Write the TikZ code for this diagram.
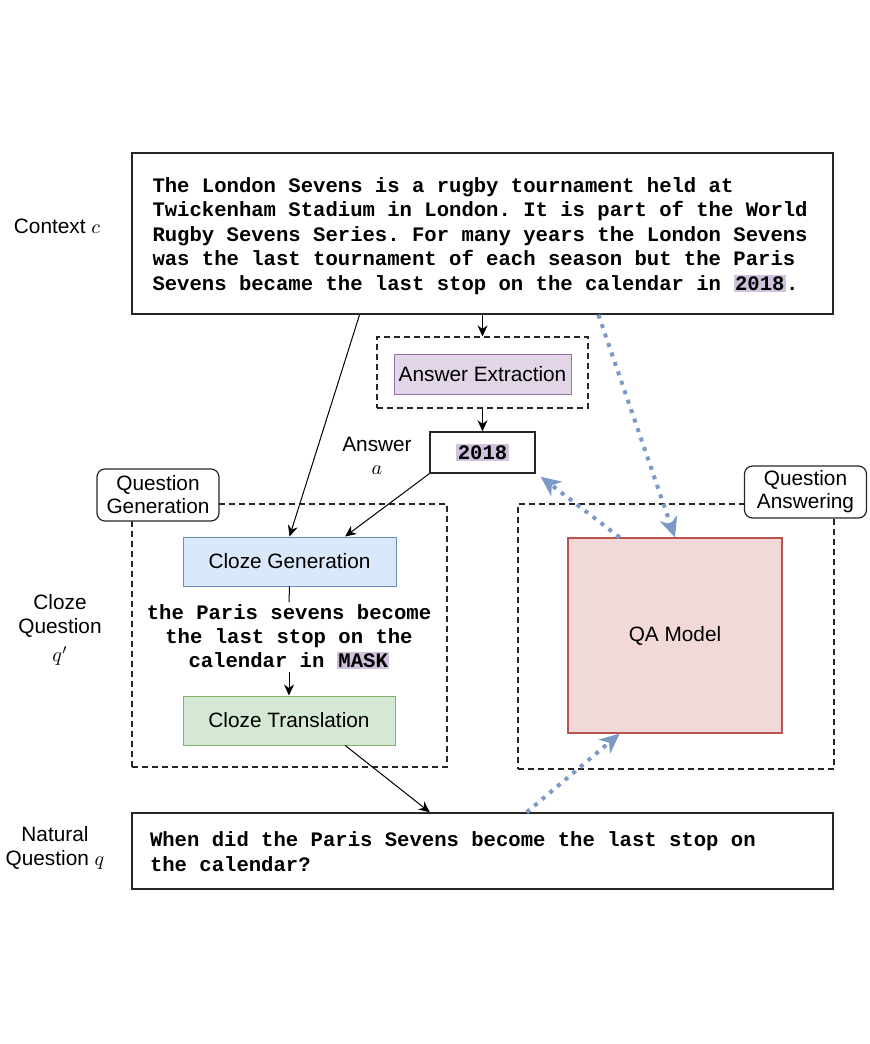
\documentclass[tikz,border=0pt]{standalone}
\usepackage{fontspec}
\setmainfont{Liberation Sans}
\setmonofont{Liberation Mono}
\usetikzlibrary{arrows.meta,positioning,calc}
\definecolor{hlpurple}{RGB}{208,194,222}
\definecolor{aefill}{HTML}{E1D5E7}
\definecolor{aedraw}{HTML}{9673A6}
\definecolor{cgfill}{HTML}{DAE8FC}
\definecolor{cgdraw}{HTML}{6C8EBF}
\definecolor{ctfill}{HTML}{D5E8D4}
\definecolor{ctdraw}{HTML}{82B366}
\definecolor{qafill}{HTML}{F2D9D8}
\definecolor{qadraw}{HTML}{B85450}
\definecolor{dotblue}{RGB}{124,153,200}
\newcommand{\hl}[1]{{\setlength{\fboxsep}{0.8pt}\colorbox{hlpurple}{#1}}}
\newcommand{\leftlines}[2]{\raisebox{-1.5pt}[\height][\depth]{\makebox[#1][l]{\begin{tabular}{@{}l@{}}#2\end{tabular}}}}

\begin{document}
\begin{tikzpicture}[
  x=0.5pt, y=-0.5pt,
  font=\fontsize{10.4}{12}\selectfont,
  box/.style={draw=black!85, line width=0.7pt, inner sep=0pt},
  ttbox/.style={box, font=\fontsize{10.3}{12.25}\selectfont\ttfamily\bfseries},
  proc/.style={draw, line width=0.5pt, inner sep=0pt, minimum width=106.5pt, minimum height=24.5pt},
  dbox/.style={draw=black!85, line width=0.6pt, dash pattern=on 3pt off 2pt, inner sep=0pt},
  lbl/.style={draw=black!85, line width=0.6pt, rounded corners=4pt, fill=white, align=center,
    minimum width=61pt, minimum height=26pt, inner sep=0pt, font=\fontsize{10.4}{11.5}\selectfont},
  side/.style={align=center},
  arr/.style={-{Stealth[length=5.5pt,width=5pt]}, line width=0.5pt},
  qaarr/.style={-{Stealth[length=10pt,width=9pt,inset=3pt]}, dotblue, line width=2pt,
    dash pattern=on 2pt off 3pt}
]
\useasboundingbox (0,0) rectangle (870,1044);

\node[box, ttbox, minimum width=350.5pt, minimum height=80.5pt] (ctx) at (482.5,233.5)
  {\leftlines{330pt}{The London Sevens is a rugby tournament held at\\
   Twickenham Stadium in London. It is part of the World\\
   Rugby Sevens Series. For many years the London Sevens\\
   was the last tournament of each season but the Paris\\
   Sevens became the last stop on the calendar in \hl{2018}.}};
\node[side] (ctxlbl) at (57,226) {Context $c$};

\node[dbox, minimum width=105.5pt, minimum height=35.5pt] (aebox) at (482.5,372.5) {};
\node[proc, fill=aefill, draw=aedraw, minimum width=88.5pt, minimum height=20pt] (ae) at (482.5,374) {Answer Extraction};

\node[box, minimum width=52.5pt, minimum height=20.5pt, font=\fontsize{10.3}{12}\selectfont\ttfamily\bfseries] (ans) at (482.5,452.5) {\hl{2018}};
\node[side, font=\fontsize{10.4}{11.5}\selectfont] (anslbl) at (377,456) {Answer\\$a$};

\node[dbox, minimum width=157.5pt, minimum height=131.5pt] (qg) at (289.5,635.5) {};
\node[dbox, minimum width=158pt, minimum height=132.5pt] (qa) at (676,636.5) {};
\node[lbl] (qglbl) at (158,495) {Question\\Generation};
\node[lbl] (qalbl) at (805.5,492) {Question\\Answering};

\node[proc, fill=cgfill, draw=cgdraw] (cg) at (289.5,561.5) {Cloze Generation};
\node[align=center, inner sep=1pt, font=\fontsize{10.3}{12}\selectfont\ttfamily\bfseries] (cloze) at (289,637)
  {the Paris sevens become\\the last stop on the\\calendar in \hl{MASK}};
\node[proc, fill=ctfill, draw=ctdraw, minimum width=106pt] (ct) at (289,720.5) {Cloze Translation};
\node[side] (clozelbl) at (60,630) {Cloze\\Question\\[2pt]$q'$};

\node[proc, fill=qafill, draw=qadraw, line width=0.6pt, minimum width=107pt, minimum height=97.5pt] (model) at (675,635.5) {QA Model};

\node[box, ttbox, minimum width=350.5pt, minimum height=38pt] (nq) at (482.5,851)
  {\leftlines{332.5pt}{When did the Paris Sevens become the last stop on\\the calendar?}};
\node[side] (nqlbl) at (55,848) {Natural\\Question $q$};

\draw[arr] (ctx.south) -- (aebox.north);
\draw[arr] (aebox.south) -- (ans.north);
\draw[arr] ($(ctx.south west)!0.325!(ctx.south east)$) -- (cg.north);
\draw[arr] (ans.south west) -- ($(cg.north west)!0.76!(cg.north east)$);
\draw[line width=0.5pt] (cg.south) -- (cloze.north);
\draw[arr] (cloze.south) -- (ct.north);
\draw[arr] ($(ct.south west)!0.764!(ct.south east)$) -- ($(nq.north west)!0.425!(nq.north east)$);

\draw[qaarr] ($(ctx.south west)!0.665!(ctx.south east)$) -- (model.north);
\draw[qaarr] ($(model.north west)!0.243!(model.north east)$) -- ($(ans.south east)+(5,3)$);
\draw[qaarr] ($(nq.north west)!0.563!(nq.north east)$) -- ($(model.south west)!0.243!(model.south east)$);
\end{tikzpicture}
\end{document}
